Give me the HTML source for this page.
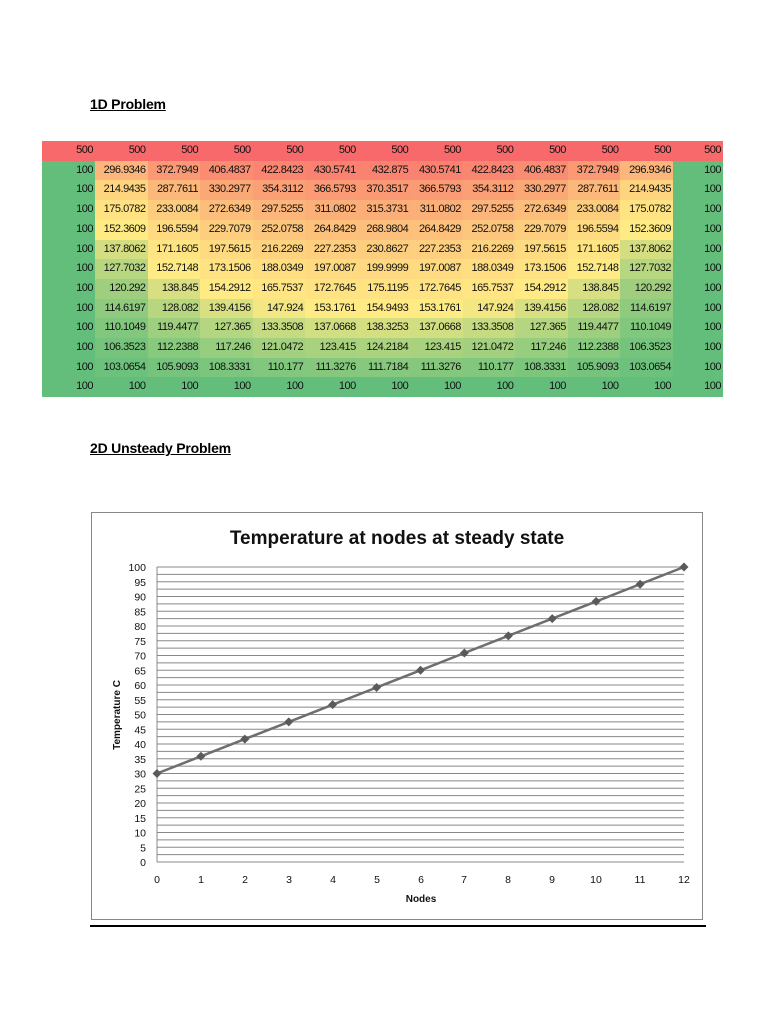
<!DOCTYPE html>
<html><head><meta charset="utf-8"><style>
body{margin:0;width:768px;height:1024px;background:#fff;position:relative;font-family:"Liberation Sans",sans-serif;overflow:hidden}
h2{position:absolute;margin:0;font-size:14px;font-weight:bold;text-decoration:underline;letter-spacing:-0.2px}
table{position:absolute;left:42px;top:141px;border-collapse:collapse;table-layout:fixed;width:681px}
td{height:19.7px;padding:0 2px 0 0;font-size:11px;letter-spacing:-0.5px;text-align:right;color:#111;white-space:nowrap;overflow:hidden;line-height:19.7px}
col.a{width:53px}col.b{width:52.55px}col.c{width:50px}
</style></head><body>
<h2 style="left:90px;top:96px">1D Problem</h2>
<h2 style="left:90px;top:440px">2D Unsteady Problem</h2>
<table id="t"><colgroup><col class="a"><col class="b"><col class="b"><col class="b"><col class="b"><col class="b"><col class="b"><col class="b"><col class="b"><col class="b"><col class="b"><col class="b"><col class="c"></colgroup>
<tr><td>500</td><td>500</td><td>500</td><td>500</td><td>500</td><td>500</td><td>500</td><td>500</td><td>500</td><td>500</td><td>500</td><td>500</td><td>500</td></tr>
<tr><td>100</td><td>296.9346</td><td>372.7949</td><td>406.4837</td><td>422.8423</td><td>430.5741</td><td>432.875</td><td>430.5741</td><td>422.8423</td><td>406.4837</td><td>372.7949</td><td>296.9346</td><td>100</td></tr>
<tr><td>100</td><td>214.9435</td><td>287.7611</td><td>330.2977</td><td>354.3112</td><td>366.5793</td><td>370.3517</td><td>366.5793</td><td>354.3112</td><td>330.2977</td><td>287.7611</td><td>214.9435</td><td>100</td></tr>
<tr><td>100</td><td>175.0782</td><td>233.0084</td><td>272.6349</td><td>297.5255</td><td>311.0802</td><td>315.3731</td><td>311.0802</td><td>297.5255</td><td>272.6349</td><td>233.0084</td><td>175.0782</td><td>100</td></tr>
<tr><td>100</td><td>152.3609</td><td>196.5594</td><td>229.7079</td><td>252.0758</td><td>264.8429</td><td>268.9804</td><td>264.8429</td><td>252.0758</td><td>229.7079</td><td>196.5594</td><td>152.3609</td><td>100</td></tr>
<tr><td>100</td><td>137.8062</td><td>171.1605</td><td>197.5615</td><td>216.2269</td><td>227.2353</td><td>230.8627</td><td>227.2353</td><td>216.2269</td><td>197.5615</td><td>171.1605</td><td>137.8062</td><td>100</td></tr>
<tr><td>100</td><td>127.7032</td><td>152.7148</td><td>173.1506</td><td>188.0349</td><td>197.0087</td><td>199.9999</td><td>197.0087</td><td>188.0349</td><td>173.1506</td><td>152.7148</td><td>127.7032</td><td>100</td></tr>
<tr><td>100</td><td>120.292</td><td>138.845</td><td>154.2912</td><td>165.7537</td><td>172.7645</td><td>175.1195</td><td>172.7645</td><td>165.7537</td><td>154.2912</td><td>138.845</td><td>120.292</td><td>100</td></tr>
<tr><td>100</td><td>114.6197</td><td>128.082</td><td>139.4156</td><td>147.924</td><td>153.1761</td><td>154.9493</td><td>153.1761</td><td>147.924</td><td>139.4156</td><td>128.082</td><td>114.6197</td><td>100</td></tr>
<tr><td>100</td><td>110.1049</td><td>119.4477</td><td>127.365</td><td>133.3508</td><td>137.0668</td><td>138.3253</td><td>137.0668</td><td>133.3508</td><td>127.365</td><td>119.4477</td><td>110.1049</td><td>100</td></tr>
<tr><td>100</td><td>106.3523</td><td>112.2388</td><td>117.246</td><td>121.0472</td><td>123.415</td><td>124.2184</td><td>123.415</td><td>121.0472</td><td>117.246</td><td>112.2388</td><td>106.3523</td><td>100</td></tr>
<tr><td>100</td><td>103.0654</td><td>105.9093</td><td>108.3331</td><td>110.177</td><td>111.3276</td><td>111.7184</td><td>111.3276</td><td>110.177</td><td>108.3331</td><td>105.9093</td><td>103.0654</td><td>100</td></tr>
<tr><td>100</td><td>100</td><td>100</td><td>100</td><td>100</td><td>100</td><td>100</td><td>100</td><td>100</td><td>100</td><td>100</td><td>100</td><td>100</td></tr>
</table>
<svg width="768" height="1024" style="position:absolute;left:0;top:0" font-family="Liberation Sans, sans-serif">
<rect x="91.5" y="512.5" width="611" height="407" fill="none" stroke="#888" stroke-width="1"/>
<line x1="90" y1="926" x2="706" y2="926" stroke="#000" stroke-width="2"/>
<text x="397" y="544" text-anchor="middle" font-size="19" font-weight="bold" fill="#111">Temperature at nodes at steady state</text>
<g id="grid" stroke="#888" stroke-width="1"></g>
<g id="yl" font-size="10.5" fill="#111" text-anchor="end">
<text x="146" y="571">100</text><text x="146" y="600">95</text><text x="146" y="630">90</text><text x="146" y="659">85</text><text x="146" y="689">80</text><text x="146" y="718">75</text><text x="146" y="748">70</text><text x="146" y="777">65</text><text x="146" y="807">60</text><text x="146" y="836">55</text><text x="146" y="866">50</text>
</g>
<g id="xl" font-size="10.5" fill="#111" text-anchor="middle">
<text x="157" y="883">0</text><text x="201" y="883">1</text><text x="245" y="883">2</text><text x="289" y="883">3</text><text x="333" y="883">4</text><text x="377" y="883">5</text><text x="421" y="883">6</text><text x="464" y="883">7</text><text x="508" y="883">8</text><text x="552" y="883">9</text><text x="596" y="883">10</text><text x="640" y="883">11</text><text x="684" y="883">12</text>
</g>
<text x="421" y="902" text-anchor="middle" font-size="10" font-weight="bold" fill="#111">Nodes</text>
<text transform="translate(120,715) rotate(-90)" text-anchor="middle" font-size="10" font-weight="bold" fill="#111">Temperature C</text>
<g id="ser"></g>
</svg>
<script>
(function(){
var tds=[].slice.call(document.querySelectorAll('#t td'));
var vals=tds.map(function(t){return parseFloat(t.textContent)});
var s=vals.slice().sort(function(a,b){return a-b});var n=s.length;var p=(n-1)*0.5;var med=s[Math.floor(p)]+(s[Math.ceil(p)]-s[Math.floor(p)])*(p-Math.floor(p));
var mn=100,mx=500,G=[99,190,123],Y=[255,235,132],R=[248,105,107];
function mix(a,b,t){return 'rgb('+a.map(function(v,i){return Math.round(v+(b[i]-v)*t)}).join(',')+')'}
tds.forEach(function(t,i){var v=vals[i];t.style.background=v<=med?mix(G,Y,(v-mn)/(med-mn)):mix(Y,R,(v-med)/(mx-med));});
var y0=862,y1=567;function Y_(v){return y0+(y1-y0)*v/100}
var g=document.getElementById('grid'),ns='http://www.w3.org/2000/svg',h='';
for(var v=0;v<=100;v+=2.5){var y=Y_(v).toFixed(1);h+='<line x1="157" x2="684" y1="'+y+'" y2="'+y+'"/>';}
h+='<line x1="157" x2="157" y1="567" y2="862"/>';g.innerHTML=h;
var yl=document.getElementById('yl'),hh='';
for(var v=100;v>=0;v-=5){hh+='<text x="146" y="'+(Y_(v)+4).toFixed(1)+'">'+v+'</text>';}yl.innerHTML=hh;
var pts=[],m='';for(var i=0;i<=12;i++){var x=157+i*(684-157)/12,y=Y_(30+70*i/12);pts.push(x.toFixed(1)+','+y.toFixed(1));m+='<polygon points="'+x+','+(y-4.5)+' '+(x+4.5)+','+y+' '+x+','+(y+4.5)+' '+(x-4.5)+','+y+'" fill="#5a5a5a"/>';}
document.getElementById('ser').innerHTML='<polyline points="'+pts.join(' ')+'" fill="none" stroke="#6e6e6e" stroke-width="2.5"/>'+m;
})();
</script>
</body></html>
